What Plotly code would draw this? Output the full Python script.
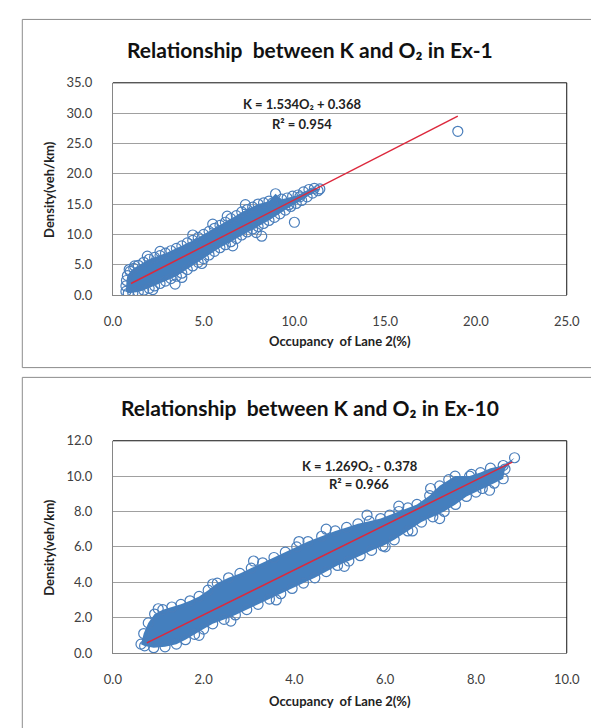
import plotly.graph_objects as go

# ---------------- Data: Ex-1 ----------------
ex1_upper_x = [0.72, 0.72, 0.75, 0.8, 0.95, 1.15, 1.4, 1.7, 2.0, 2.3, 2.6, 2.9, 3.2, 3.5, 3.8, 4.1, 4.4, 4.7, 5.0, 5.3,
               5.6, 5.9, 6.2, 6.5, 6.8, 7.1, 7.4, 7.7, 8.0, 8.3, 8.6, 8.96, 9.3, 9.6, 9.9, 10.2, 10.5, 10.8, 11.1, 11.4]
ex1_upper_y = [0.6, 1.5, 2.4, 3.2, 3.9, 4.4, 4.9, 5.4, 5.9, 6.2, 6.5, 6.9, 7.3, 7.7, 8.1, 8.6, 9.0, 9.5, 10.0, 10.5,
               11.0, 11.5, 12.0, 12.6, 13.1, 13.7, 14.1, 14.5, 15.0, 15.2, 15.5, 16.7, 15.8, 16.0, 16.3, 16.5, 17.0, 17.4, 17.6, 17.5]
ex1_lower_x = [0.85, 1.1, 1.4, 1.7, 2.0, 2.3, 2.6, 2.9, 3.2, 3.5, 3.8, 4.1, 4.4, 4.7, 5.0, 5.3, 5.6, 5.9, 6.2, 6.5,
               6.8, 7.1, 7.4, 7.7, 8.0, 8.3, 8.6, 8.9, 9.2, 9.5, 9.8, 10.1, 10.4, 10.7, 11.0, 11.3]
ex1_lower_y = [0.3, 0.35, 0.5, 0.8, 1.1, 1.5, 1.9, 2.3, 2.7, 3.1, 3.6, 4.2, 4.8, 5.4, 6.0, 6.6, 7.2, 7.8, 8.3, 8.8,
               9.3, 9.9, 10.4, 10.9, 11.3, 11.8, 12.3, 12.8, 13.4, 14.0, 14.6, 15.1, 15.6, 16.2, 16.8, 17.2]
ex1_stray_x = [1.9, 2.6, 4.4, 5.5, 6.3, 7.3, 8.8, 9.7, 10.3, 4.9, 6.6, 7.9, 3.8, 2.2, 1.2, 0.9]
ex1_stray_y = [6.4, 7.2, 9.9, 11.7, 13.0, 14.9, 15.2, 14.9, 16.2, 5.2, 8.1, 10.3, 2.9, 0.9, 4.8, 4.2]
ex1_outlier_x = [3.43, 8.2, 10.0, 19.0]
ex1_outlier_y = [1.8, 9.7, 12.0, 27.0]
ex1_trend_x = [1.0, 19.0]
ex1_trend_y = [1.90, 29.51]
ex1_equation = "<b>K = 1.534O₂ + 0.368</b>"
ex1_r2 = "<b>R² = 0.954</b>"
ex1_xticks = [0, 5, 10, 15, 20, 25]
ex1_yticks = [0, 5, 10, 15, 20, 25, 30, 35]

# ---------------- Data: Ex-10 ----------------
ex10_upper_x = [0.62, 0.68, 0.78, 0.92, 1.1, 1.3, 1.5, 1.7, 1.9, 2.1, 2.3, 2.55, 2.8, 3.05, 3.3, 3.55, 3.8, 4.05, 4.3,
                4.6, 4.9, 5.15, 5.4, 5.65, 5.9, 6.1, 6.3, 6.5, 6.7, 6.98, 7.2, 7.54, 7.86, 8.1, 8.32, 8.6, 8.85]
ex10_upper_y = [0.5, 1.1, 1.7, 2.2, 2.45, 2.6, 2.75, 2.95, 3.2, 3.55, 3.95, 4.25, 4.5, 4.8, 5.1, 5.4, 5.7, 6.0, 6.3,
                6.6, 6.9, 7.1, 7.3, 7.45, 7.6, 7.8, 8.0, 8.2, 8.4, 8.9, 9.45, 10.0, 10.0, 10.2, 10.45, 10.6, 11.04]
ex10_lower_x = [0.7, 0.9, 1.15, 1.4, 1.6, 1.8, 2.0, 2.2, 2.45, 2.7, 2.95, 3.2, 3.45, 3.7, 3.95, 4.2, 4.45, 4.7, 4.95,
                5.2, 5.45, 5.7, 5.95, 6.2, 6.5, 6.8, 7.05, 7.3, 7.55, 7.79, 8.0, 8.14, 8.4, 8.6, 8.64]
ex10_lower_y = [0.4, 0.3, 0.35, 0.5, 0.75, 1.05, 1.35, 1.65, 1.9, 2.15, 2.45, 2.75, 3.05, 3.35, 3.65, 3.95, 4.25, 4.6, 4.95,
                5.2, 5.5, 5.8, 6.05, 6.4, 6.9, 7.4, 7.7, 8.0, 8.4, 8.85, 9.1, 9.3, 9.6, 9.85, 10.4]
ex10_stray_x = [1.0, 2.2, 3.1, 4.1, 4.7, 5.6, 6.3, 7.0, 7.4, 7.9, 8.4, 1.9, 2.6, 3.6, 5.1, 6.0, 6.6, 7.2, 8.3]
ex10_stray_y = [2.5, 3.9, 5.2, 6.3, 7.0, 7.8, 8.3, 9.3, 9.8, 10.1, 10.1, 1.0, 1.8, 3.0, 4.9, 6.0, 6.9, 7.6, 9.2]
ex10_trend_x = [0.75, 8.8]
ex10_trend_y = [0.57, 10.79]
ex10_equation = "<b>K = 1.269O₂ - 0.378</b>"
ex10_r2 = "<b>R² = 0.966</b>"
ex10_xticks = [0, 2, 4, 6, 8, 10]
ex10_yticks = [0, 2, 4, 6, 8, 10, 12]

titles = ["<b>Relationship  between K and O₂ in Ex-1</b>",
          "<b>Relationship  between K and O₂ in Ex-10</b>"]
x_title = "<b>Occupancy  of Lane 2(%)</b>"
y_title = "<b>Density(veh/km)</b>"

# ---------------- Styling ----------------
W, H = 599, 728
MARK = "rgb(74,126,187)"
FILL = "rgb(68,127,190)"
TREND = "rgb(220,40,60)"
FONT = "Lato, DejaVu Sans"

def px_x(p):
    return p / W

def px_y(p):
    return 1 - p / H

fig = go.Figure()

def add_panel(xa, ya, ux, uy, lx, ly, sx, sy, ox, oy, tx, ty):
    poly_x = ux + lx[::-1]
    poly_y = uy + ly[::-1]
    fig.add_trace(go.Scatter(x=poly_x, y=poly_y, mode="lines", fill="toself",
                             fillcolor=FILL, line=dict(width=0, color=FILL),
                             xaxis=xa, yaxis=ya, hoverinfo="skip", showlegend=False))
    fig.add_trace(go.Scatter(x=ux + lx + sx + ox, y=uy + ly + sy + oy, mode="markers",
                             marker=dict(symbol="circle-open", size=10,
                                         line=dict(width=1.2, color=MARK), color=MARK),
                             xaxis=xa, yaxis=ya, showlegend=False))
    fig.add_trace(go.Scatter(x=tx, y=ty, mode="lines",
                             line=dict(color=TREND, width=1.5),
                             xaxis=xa, yaxis=ya, showlegend=False))

add_panel("x", "y", ex1_upper_x, ex1_upper_y, ex1_lower_x, ex1_lower_y,
          ex1_stray_x, ex1_stray_y, ex1_outlier_x, ex1_outlier_y, ex1_trend_x, ex1_trend_y)
add_panel("x2", "y2", ex10_upper_x, ex10_upper_y, ex10_lower_x, ex10_lower_y,
          ex10_stray_x, ex10_stray_y, [], [], ex10_trend_x, ex10_trend_y)

dom_x = [px_x(99.5), px_x(570.7)]
axis_common = dict(showgrid=False, zeroline=False, showline=True, linecolor="#868686",
                   linewidth=1, ticks="", tickformat=".1f",
                   tickfont=dict(family=FONT, size=13, color="#404040"),
                   ticklabelstandoff=14)
yaxis_common = dict(showgrid=True, gridcolor="#a0a0a0", gridwidth=1, zeroline=False,
                    showline=True, linecolor="#868686", linewidth=1, ticks="",
                    tickformat=".1f", tickfont=dict(family=FONT, size=13, color="#404040"),
                    ticklabelstandoff=17)

fig.update_layout(
    width=W, height=H, margin=dict(l=0, r=0, t=0, b=0),
    paper_bgcolor="white", plot_bgcolor="white", showlegend=False,
    xaxis=dict(domain=dom_x, range=[0, 25], tickvals=ex1_xticks, anchor="y", **axis_common),
    yaxis=dict(domain=[px_y(285.3), px_y(68.3)], range=[0, 35], tickvals=ex1_yticks,
               anchor="x", **yaxis_common),
    xaxis2=dict(domain=dom_x, range=[0, 10], tickvals=ex10_xticks, anchor="y2", **axis_common),
    yaxis2=dict(domain=[px_y(651.3), px_y(434.3)], range=[0, 12], tickvals=ex10_yticks,
                anchor="x2", **yaxis_common),
)

shapes = [
    dict(type="rect", xref="paper", yref="paper", x0=px_x(5.5), x1=1.05,
         y0=px_y(359.5), y1=px_y(3.5), line=dict(color="#8c8c8c", width=1), layer="below"),
    dict(type="rect", xref="paper", yref="paper", x0=px_x(5.5), x1=1.05,
         y0=-0.05, y1=px_y(369.5), line=dict(color="#8c8c8c", width=1), layer="below"),
]
for xa, ya in (("x", "y"), ("x2", "y2")):
    shapes.append(dict(type="path", xref=f"{xa} domain", yref=f"{ya} domain",
                       path="M 0,1 L 1,1 L 1,0", line=dict(color="#111111", width=1)))
fig.update_layout(shapes=shapes)

ann = []
for t, yc in ((titles[0], 34), (titles[1], 400)):
    ann.append(dict(text=t, x=px_x(304), y=px_y(yc), xref="paper", yref="paper",
                    showarrow=False, xanchor="center", yanchor="middle",
                    font=dict(family=FONT, size=21, color="#111111")))
for yc_x, yc_y in ((332, 177), (700, 543)):
    ann.append(dict(text=x_title, x=px_x(335), y=px_y(yc_x), xref="paper", yref="paper",
                    showarrow=False, xanchor="center", yanchor="middle",
                    font=dict(family=FONT, size=13, color="#222222")))
    ann.append(dict(text=y_title, x=px_x(33), y=px_y(yc_y), xref="paper", yref="paper",
                    showarrow=False, xanchor="center", yanchor="middle", textangle=-90,
                    font=dict(family=FONT, size=13, color="#222222")))
for txt, xc, yc in ((ex1_equation, 296, 90), (ex1_r2, 296, 110),
                    (ex10_equation, 356, 460), (ex10_r2, 355, 479)):
    ann.append(dict(text=txt, x=px_x(xc), y=px_y(yc), xref="paper", yref="paper",
                    showarrow=False, xanchor="center", yanchor="middle",
                    font=dict(family=FONT, size=13, color="#222222")))
fig.update_layout(annotations=ann)

fig.write_html("out.html")
